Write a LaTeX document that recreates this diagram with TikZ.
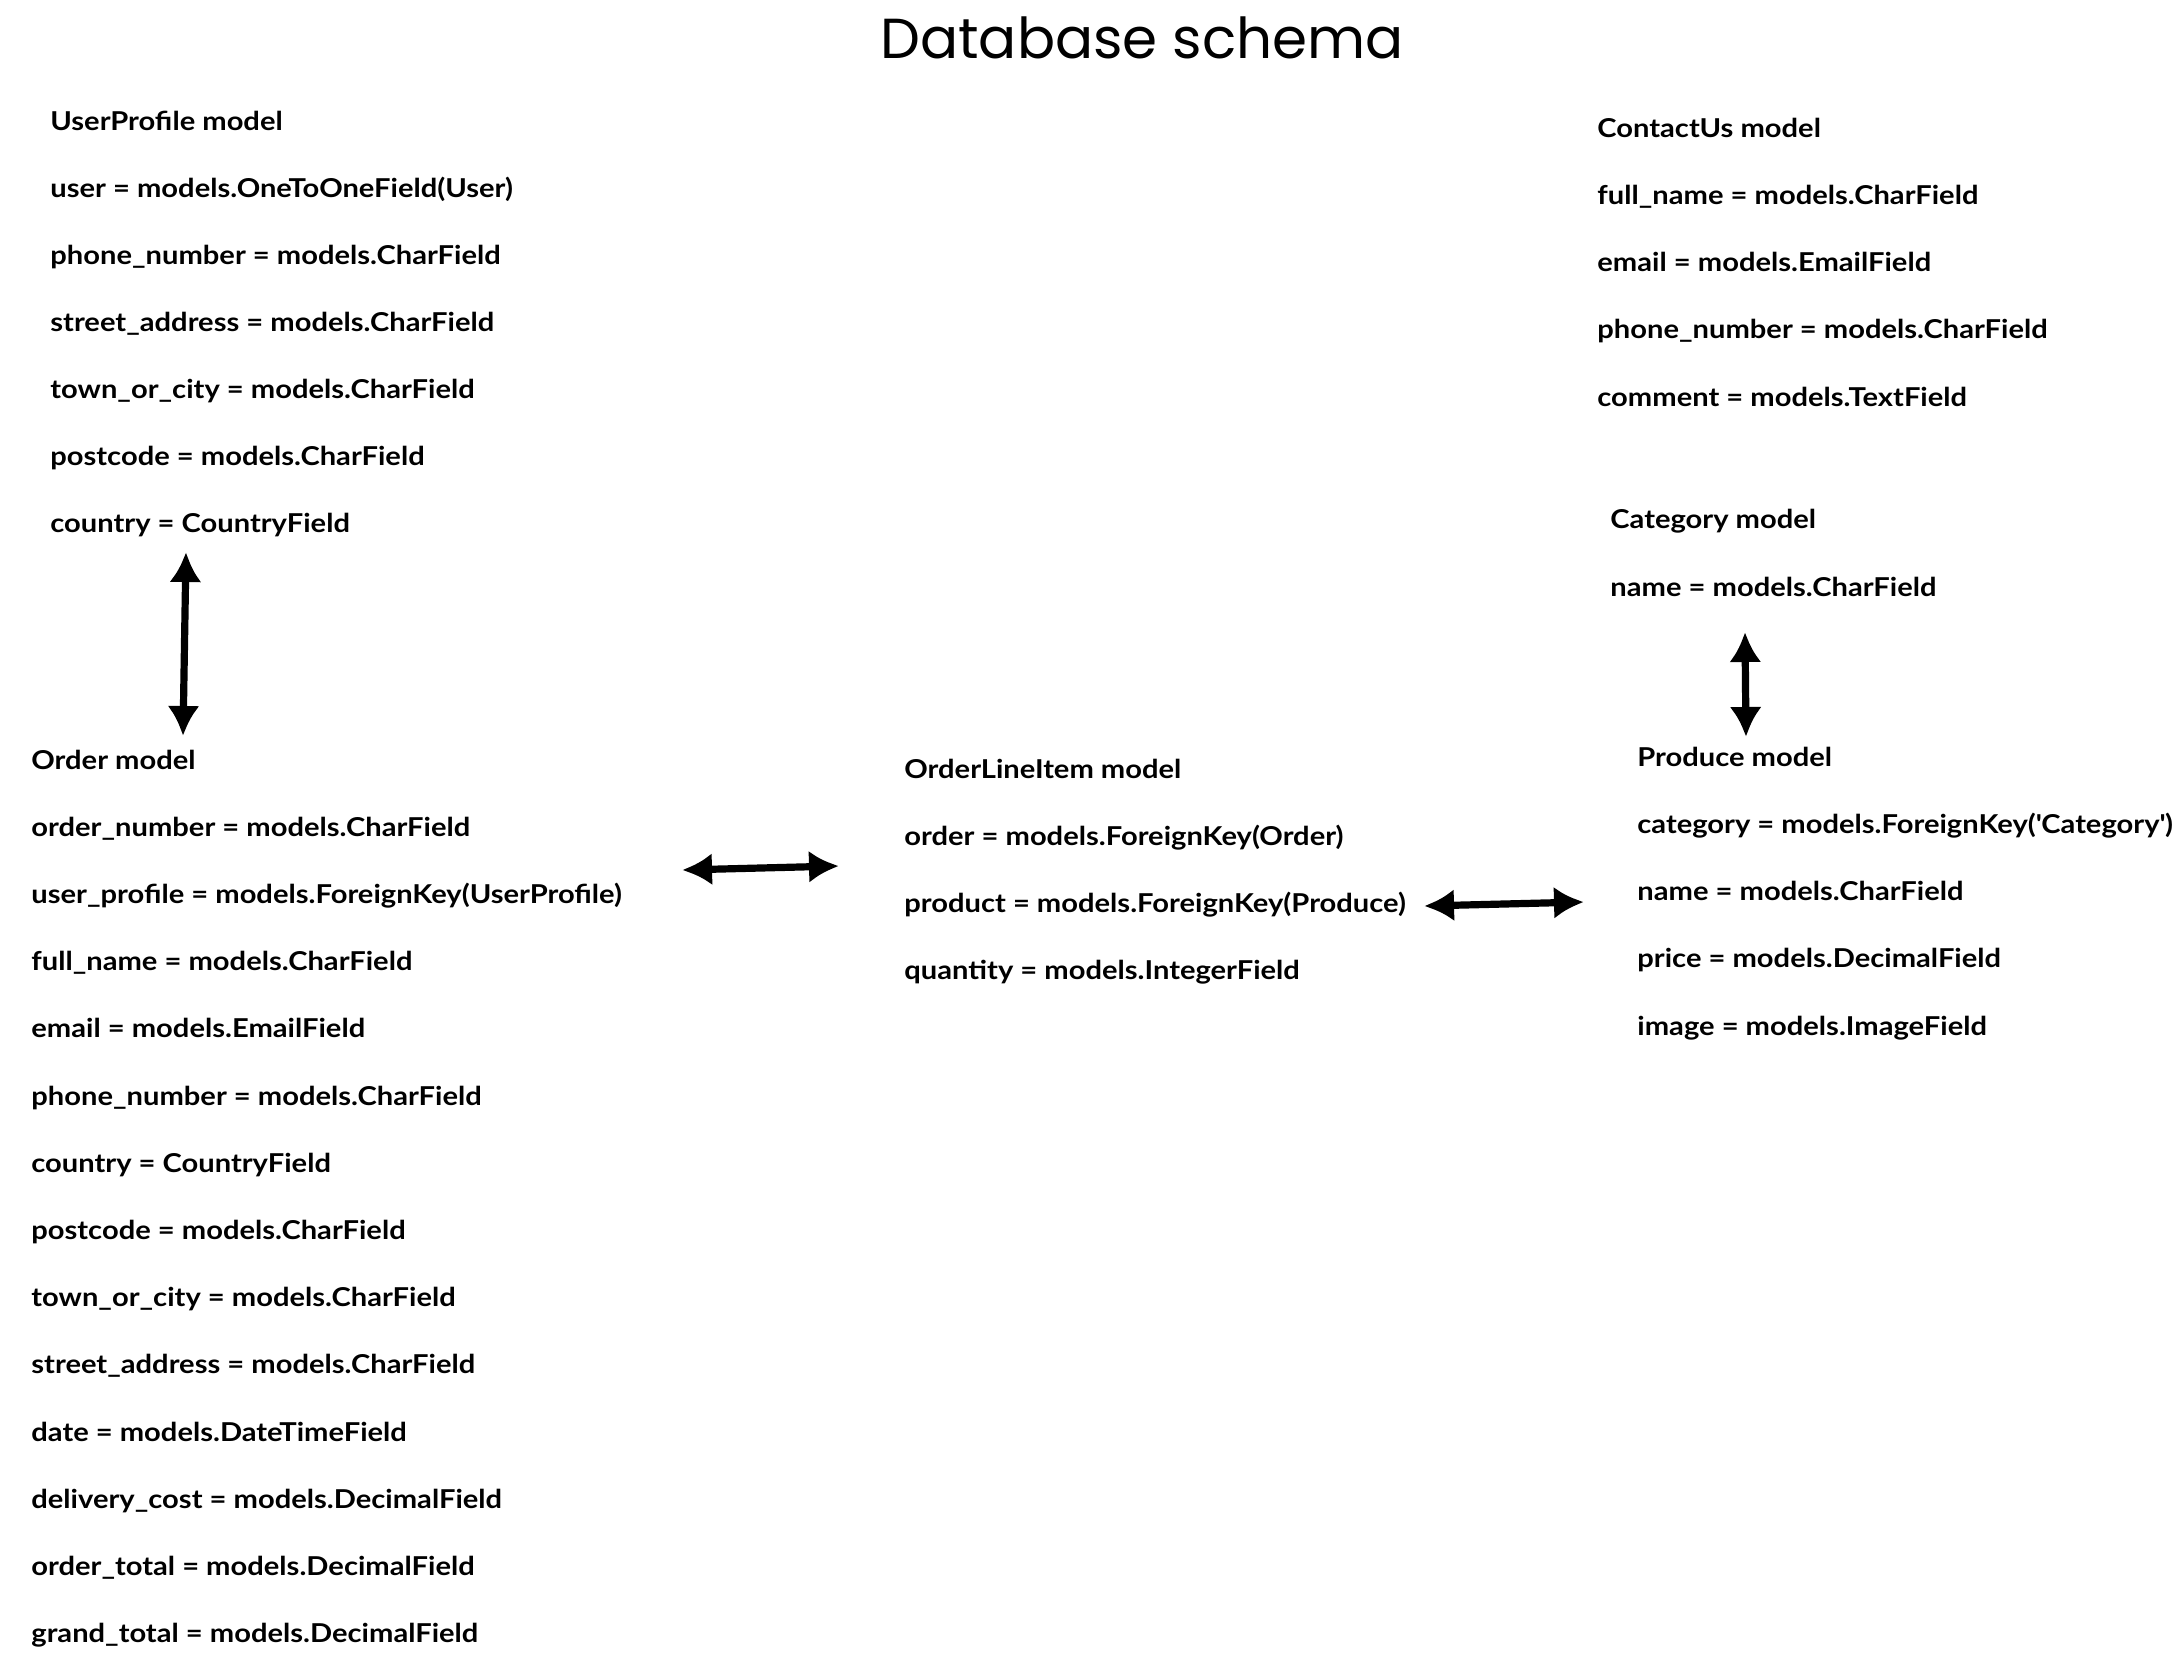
\documentclass[tikz,border=0pt]{standalone}
\usepackage{fontspec}
\setmainfont{Lato}
\newfontfamily\fieldfont{Lato}[FakeStretch=1.12]
\newfontfamily\titlefont{Poppins}
\usetikzlibrary{arrows.meta}

\begin{document}
\begin{tikzpicture}[x=0.5pt,y=-0.5pt,>={Latex[length=15pt,width=16pt]},
        field/.style={anchor=base west,inner sep=0pt,font=\fieldfont\fontsize{13}{15}\selectfont\bfseries},
        rel/.style={<->,line width=3.6pt,line cap=round}]
        \useasboundingbox (0,0) rectangle (2184,1656);
        \node[anchor=base,inner sep=0pt,font=\titlefont\fontsize{28.2}{34}\selectfont] (title) at (1142,58) {Database schema};
        \path
        % UserProfile model
        (50,130)
        +(0,0)   node[field] (up0) {UserProfile model}
        +(0,67)  node[field] (up1) {user = models.OneToOneField(User)}
        +(0,134) node[field] (up2) {phone\_number = models.CharField}
        +(0,201) node[field] (up3) {street\_address = models.CharField}
        +(0,268) node[field] (up4) {town\_or\_city = models.CharField}
        +(0,335) node[field] (up5) {postcode = models.CharField}
        +(0,402) node[field] (up6) {country = CountryField};
        \path
        % ContactUs model
        (1597,137)
        +(0,0)     node[field] (cu0) {ContactUs model}
        +(0,67.3)  node[field] (cu1) {full\_name = models.CharField}
        +(0,134.6) node[field] (cu2) {email = models.EmailField}
        +(0,201.9) node[field] (cu3) {phone\_number = models.CharField}
        +(0,269.2) node[field] (cu4) {comment = models.TextField};
        \path
        % Category model
        (1610,528)
        +(0,0)  node[field] (ca0) {Category model}
        +(0,68) node[field] (ca1) {name = models.CharField};
        \path
        % Produce model
        (1637,766)
        +(0,0)     node[field] (pr0) {Produce model}
        +(0,67.3)  node[field] (pr1) {category = models.ForeignKey(\textquotesingle Category\textquotesingle)}
        +(0,134.6) node[field] (pr2) {name = models.CharField}
        +(0,201.9) node[field] (pr3) {price = models.DecimalField}
        +(0,269.2) node[field] (pr4) {image = models.ImageField};
        \path
        % OrderLineItem model
        (904,778)
        +(0,0)     node[field] (ol0) {OrderLineItem model}
        +(0,67.3)  node[field] (ol1) {order = models.ForeignKey(Order)}
        +(0,134.6) node[field] (ol2) {product = models.ForeignKey(Produce)}
        +(0,201.9) node[field] (ol3) {quantity = models.IntegerField};
        \path
        % Order model
        (31,769)
        +(0,0)     node[field] (or0) {Order model}
        +(0,67.2)  node[field] (or1) {order\_number = models.CharField}
        +(0,134.4) node[field] (or2) {user\_profile = models.ForeignKey(UserProfile)}
        +(0,201.6) node[field] (or3) {full\_name = models.CharField}
        +(0,268.8) node[field] (or4) {email = models.EmailField}
        +(0,336)   node[field] (or5) {phone\_number = models.CharField}
        +(0,403.2) node[field] (or6) {country = CountryField}
        +(0,470.4) node[field] (or7) {postcode = models.CharField}
        +(0,537.6) node[field] (or8) {town\_or\_city = models.CharField}
        +(0,604.8) node[field] (or9) {street\_address = models.CharField}
        +(0,672)   node[field] (or10) {date = models.DateTimeField}
        +(0,739.2) node[field] (or11) {delivery\_cost = models.DecimalField}
        +(0,806.4) node[field] (or12) {order\_total = models.DecimalField}
        +(0,873.6) node[field] (or13) {grand\_total = models.DecimalField};
        % relation ends
        \coordinate (upend) at (186,552);
        \coordinate (orend) at (183,736);
        \coordinate (orside) at (682,870);
        \coordinate (olleft) at (839,866);
        \coordinate (olright) at (1424,906);
        \coordinate (prside) at (1584,902);
        \coordinate (caend) at (1745,632);
        \coordinate (prtop) at (1746,737);
        \draw[rel] (upend)--(orend);
        \draw[rel] (orside)--(olleft);
        \draw[rel] (olright)--(prside);
        \draw[rel] (caend)--(prtop);
    \end{tikzpicture}
\end{document}
